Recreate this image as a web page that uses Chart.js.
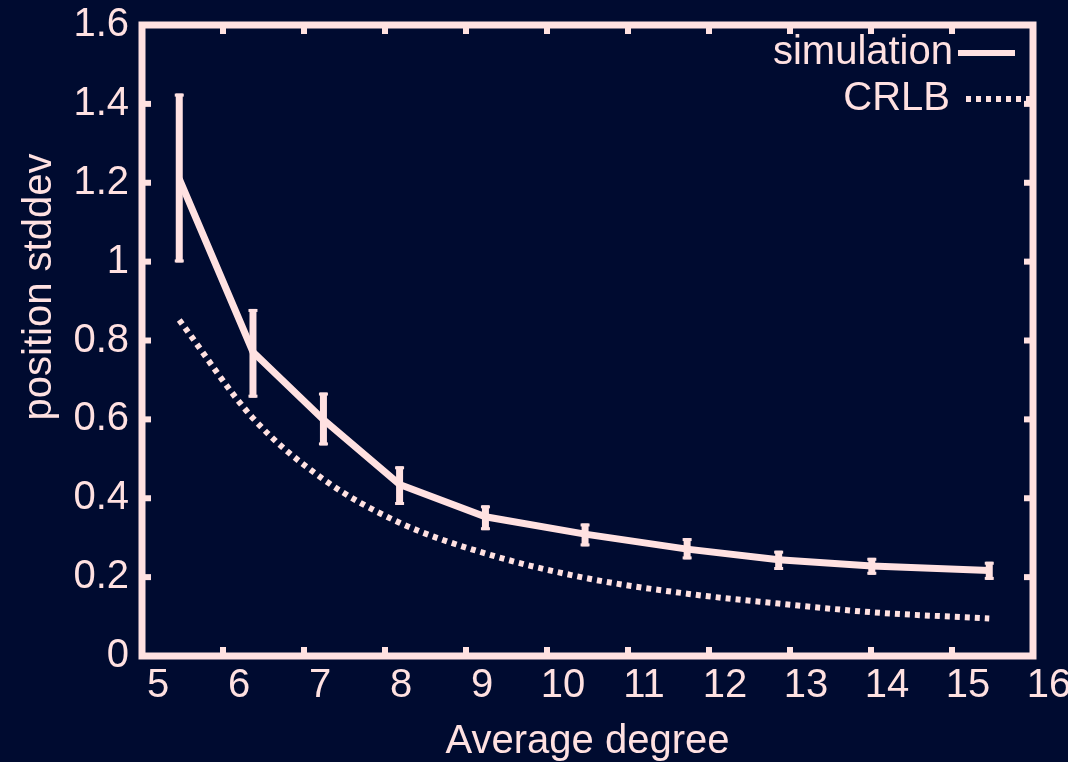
<!DOCTYPE html>
<html>
<head>
<meta charset="utf-8">
<script src="https://cdn.jsdelivr.net/npm/chart.js@4.4.1/dist/chart.umd.min.js"></script>
<style>
  html, body { margin: 0; padding: 0; background: #000b30; }
  #myChart { display: block; }
</style>
</head>
<body>
<canvas id="myChart" width="1068" height="762"></canvas>
<script>
const degree = [5.46, 6.37, 7.24, 8.18, 9.24, 10.47, 11.73, 12.86, 14.01, 15.46];
const simValues = [1.21, 0.771, 0.599, 0.435, 0.353, 0.309, 0.271, 0.244, 0.228, 0.217];
const simLow = [0.998, 0.655, 0.534, 0.383, 0.319, 0.278, 0.245, 0.218, 0.206, 0.193];
const simHigh = [1.426, 0.880, 0.668, 0.481, 0.382, 0.336, 0.299, 0.267, 0.249, 0.239];
const crlbValues = [0.852, 0.603, 0.448, 0.338, 0.260, 0.198, 0.158, 0.133, 0.111, 0.095];
const seriesNames = ["simulation", "CRLB"];
const xTitle = "Average degree";
const yTitle = "position stddev";

const ink = "#ffe1e1";
const bg = "#000b30";
const fontFamily = "'Liberation Sans', Arial, sans-serif";

Chart.defaults.font.family = fontFamily;
Chart.defaults.color = ink;

function seg(ctx, x1, y1, x2, y2) {
    ctx.beginPath();
    ctx.moveTo(x1, y1);
    ctx.lineTo(x2, y2);
    ctx.stroke();
}

// frame, inward ticks, error bars, legend and y title
const gnuplotLook = {
    id: "gnuplotLook",
    beforeDraw(chart) {
        const ctx = chart.ctx;
        ctx.save();
        ctx.fillStyle = bg;
        ctx.fillRect(0, 0, chart.width, chart.height);
        ctx.restore();
    },
    afterDatasetsDraw(chart) {
        const { ctx, chartArea: a, scales: { x, y } } = chart;
        ctx.save();
        ctx.strokeStyle = ink;
        ctx.fillStyle = ink;
        ctx.lineCap = "butt";

        // error bars
        degree.forEach((d, i) => {
            const px = x.getPixelForValue(d);
            const top = y.getPixelForValue(simHigh[i]);
            const bot = y.getPixelForValue(simLow[i]);
            ctx.lineWidth = 7;
            seg(ctx, px, top, px, bot);
            ctx.lineWidth = 3;
            seg(ctx, px - 4.5, top + 1.5, px + 4.5, top + 1.5);
            seg(ctx, px - 4.5, bot - 1.5, px + 4.5, bot - 1.5);
        });

        // frame
        ctx.lineWidth = 7;
        ctx.strokeRect(a.left, a.top, a.width, a.height);

        // ticks pointing inward on all four sides
        ctx.lineWidth = 6;
        x.ticks.forEach(t => {
            const px = x.getPixelForValue(t.value);
            seg(ctx, px, a.bottom, px, a.bottom - 9);
            seg(ctx, px, a.top, px, a.top + 9);
        });
        y.ticks.forEach(t => {
            const py = y.getPixelForValue(t.value);
            seg(ctx, a.left, py, a.left + 9, py);
            seg(ctx, a.right, py, a.right - 9, py);
        });

        // legend, text on the left of the sample
        ctx.font = "40px " + fontFamily;
        ctx.textAlign = "right";
        ctx.textBaseline = "middle";
        const ds = chart.data.datasets;
        ctx.fillText(ds[0].label, 953, 53);
        ctx.lineWidth = 6;
        seg(ctx, 958, 53, 1015, 53);
        ctx.fillText(ds[1].label, 950, 99);
        ctx.setLineDash([5, 5]);
        seg(ctx, 966, 99, 1030, 99);
        ctx.setLineDash([]);

        // y title
        ctx.translate(40, 287);
        ctx.rotate(-Math.PI / 2);
        ctx.textAlign = "center";
        ctx.fillText(yTitle, 0, 0);
        ctx.restore();
    }
};

new Chart("myChart", {
    type: "line",
    data: {
        datasets: [{
            label: seriesNames[0],
            data: degree.map((d, i) => ({ x: d, y: simValues[i] })),
            borderColor: ink,
            borderWidth: 7,
            pointRadius: 0,
            tension: 0
        }, {
            label: seriesNames[1],
            data: degree.map((d, i) => ({ x: d, y: crlbValues[i] })),
            borderColor: ink,
            borderWidth: 6,
            borderDash: [5, 5],
            borderCapStyle: "butt",
            pointRadius: 0,
            cubicInterpolationMode: "monotone"
        }]
    },
    options: {
        responsive: false,
        animation: false,
        devicePixelRatio: 1,
        layout: { padding: { top: 21, right: 35, left: 0, bottom: 0 } },
        plugins: {
            legend: { display: false },
            tooltip: { enabled: false }
        },
        scales: {
            x: {
                type: "linear",
                min: 5,
                max: 16,
                grid: { display: false },
                border: { display: false },
                ticks: {
                    stepSize: 1,
                    padding: 2,
                    labelOffset: 16,
                    maxRotation: 0,
                    font: { size: 40, lineHeight: 1 },
                    color: ink
                },
                title: {
                    display: true,
                    text: xTitle,
                    color: ink,
                    font: { size: 40, lineHeight: 1 },
                    padding: { top: 0, bottom: 0 }
                },
                afterFit(scale) { scale.height = 106; }
            },
            y: {
                min: 0,
                max: 1.6,
                grid: { display: false },
                border: { display: false },
                ticks: {
                    stepSize: 0.2,
                    padding: 5,
                    font: { size: 40, lineHeight: 1 },
                    color: ink,
                    callback: v => String(Number(v.toFixed(1)))
                },
                afterFit(scale) { scale.width = 142; }
            }
        }
    },
    plugins: [gnuplotLook]
});
</script>
</body>
</html>
